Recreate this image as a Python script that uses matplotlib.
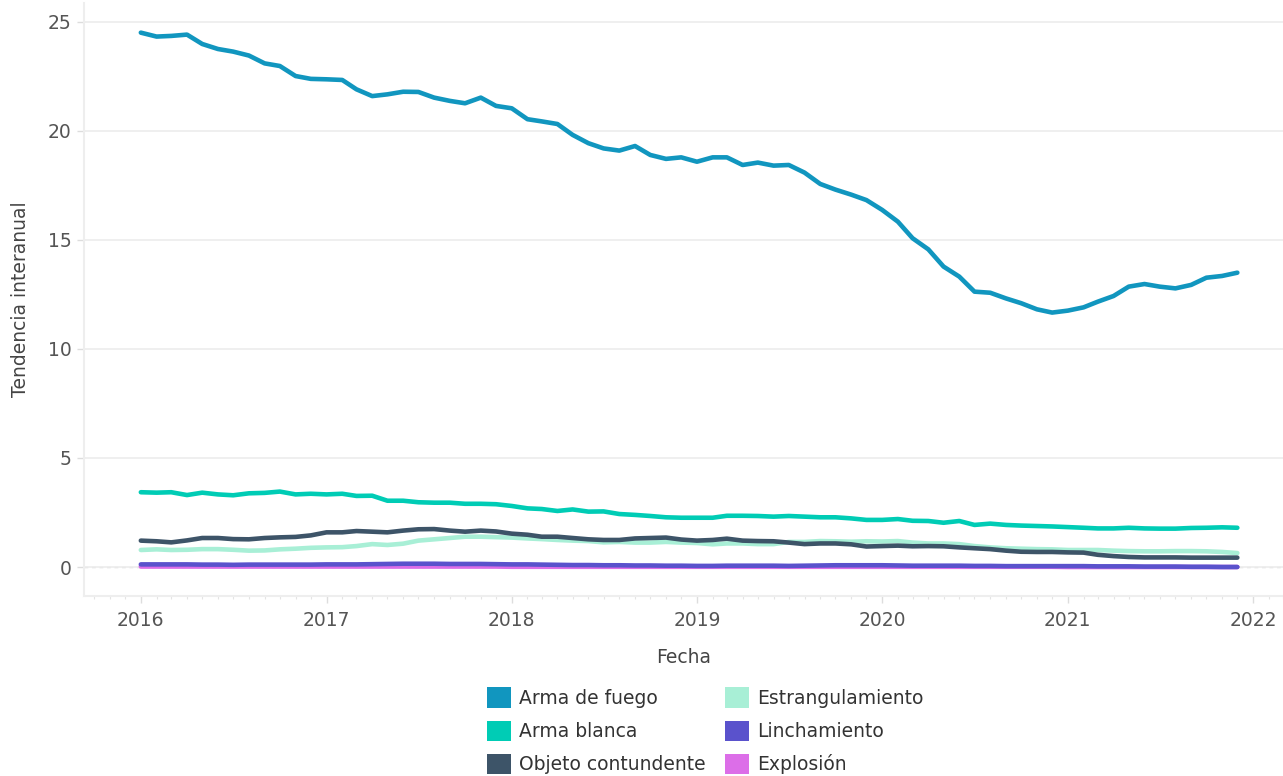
import matplotlib
matplotlib.use("Agg")
import matplotlib.pyplot as plt
import matplotlib.dates as mdates
from matplotlib.patches import Patch
import pandas as pd

dates = pd.date_range("2016-01-01", periods=72, freq="MS")

arma_fuego = [24.51, 24.33, 24.36, 24.42, 23.99, 23.76, 23.64, 23.46, 23.10, 22.98, 22.52, 22.39,
              22.37, 22.34, 21.91, 21.60, 21.68, 21.80, 21.79, 21.53, 21.38, 21.27, 21.53, 21.15,
              21.04, 20.54, 20.44, 20.32, 19.82, 19.44, 19.20, 19.10, 19.31, 18.90, 18.72, 18.79,
              18.59, 18.79, 18.79, 18.44, 18.55, 18.41, 18.44, 18.09, 17.57, 17.31, 17.08, 16.83,
              16.38, 15.84, 15.08, 14.57, 13.78, 13.32, 12.63, 12.58, 12.32, 12.10, 11.82, 11.67,
              11.76, 11.91, 12.17, 12.43, 12.86, 12.98, 12.86, 12.78, 12.94, 13.27, 13.35, 13.50]

arma_blanca = [3.43, 3.41, 3.43, 3.30, 3.41, 3.33, 3.29, 3.38, 3.40, 3.46, 3.33, 3.36,
               3.33, 3.36, 3.26, 3.27, 3.04, 3.04, 2.97, 2.95, 2.95, 2.90, 2.90, 2.88,
               2.80, 2.69, 2.66, 2.57, 2.64, 2.54, 2.55, 2.43, 2.39, 2.34, 2.28, 2.26,
               2.26, 2.26, 2.35, 2.35, 2.34, 2.31, 2.34, 2.31, 2.28, 2.28, 2.23, 2.16,
               2.16, 2.20, 2.12, 2.11, 2.03, 2.11, 1.93, 1.99, 1.93, 1.90, 1.88, 1.86,
               1.83, 1.80, 1.77, 1.77, 1.80, 1.77, 1.76, 1.76, 1.79, 1.80, 1.82, 1.80]

objeto_contundente = [1.21, 1.18, 1.13, 1.22, 1.33, 1.33, 1.28, 1.27, 1.33, 1.36, 1.38, 1.45,
                      1.59, 1.59, 1.65, 1.62, 1.59, 1.67, 1.73, 1.74, 1.67, 1.62, 1.67, 1.63,
                      1.53, 1.48, 1.39, 1.39, 1.33, 1.27, 1.24, 1.24, 1.31, 1.33, 1.35, 1.26,
                      1.21, 1.24, 1.30, 1.21, 1.19, 1.18, 1.12, 1.05, 1.08, 1.08, 1.04, 0.94,
                      0.96, 0.98, 0.95, 0.96, 0.95, 0.90, 0.86, 0.82, 0.75, 0.70, 0.69, 0.69,
                      0.67, 0.66, 0.56, 0.50, 0.46, 0.44, 0.44, 0.44, 0.43, 0.43, 0.43, 0.43]

estrangulamiento = [0.78, 0.81, 0.78, 0.79, 0.82, 0.82, 0.79, 0.75, 0.76, 0.81, 0.84, 0.88,
                    0.90, 0.91, 0.96, 1.05, 1.01, 1.07, 1.21, 1.27, 1.33, 1.39, 1.39, 1.37,
                    1.35, 1.31, 1.28, 1.24, 1.21, 1.19, 1.13, 1.15, 1.12, 1.12, 1.15, 1.12,
                    1.10, 1.04, 1.08, 1.08, 1.05, 1.05, 1.15, 1.15, 1.19, 1.18, 1.16, 1.18,
                    1.17, 1.19, 1.12, 1.08, 1.08, 1.05, 0.96, 0.90, 0.86, 0.84, 0.82, 0.81,
                    0.78, 0.78, 0.78, 0.75, 0.73, 0.72, 0.72, 0.73, 0.73, 0.72, 0.69, 0.64]

linchamiento = [0.12, 0.12, 0.12, 0.12, 0.11, 0.11, 0.10, 0.11, 0.11, 0.11, 0.11, 0.11,
                0.12, 0.12, 0.12, 0.13, 0.14, 0.15, 0.15, 0.15, 0.14, 0.14, 0.14, 0.13,
                0.12, 0.12, 0.11, 0.10, 0.09, 0.09, 0.08, 0.08, 0.07, 0.07, 0.06, 0.06,
                0.05, 0.05, 0.06, 0.06, 0.06, 0.06, 0.05, 0.06, 0.07, 0.08, 0.08, 0.08,
                0.08, 0.07, 0.06, 0.06, 0.06, 0.06, 0.05, 0.05, 0.04, 0.04, 0.04, 0.04,
                0.04, 0.04, 0.03, 0.03, 0.03, 0.02, 0.02, 0.02, 0.01, 0.01, 0.00, 0.00]

explosion = [0.02] * 24 + [0.01] * 36 + [0.00] * 12

series_names = ["Arma de fuego", "Arma blanca", "Objeto contundente",
                "Estrangulamiento", "Linchamiento", "Explosión"]
series_values = [arma_fuego, arma_blanca, objeto_contundente,
                 estrangulamiento, linchamiento, explosion]
series_colors = ["#1196bf", "#00ccb5", "#3d5468", "#a8efd6", "#5a52cc", "#dc6ee8"]

fig = plt.figure(figsize=(12.83, 7.76), dpi=100)
ax = fig.add_axes([84 / 1283, 1 - 596 / 776, 1 - 84 / 1283, (596 - 3) / 776])

ax.axhline(0, color="#bbbbbb", lw=0.9, ls=(0, (3, 3)), zorder=1)

for name, vals, col in reversed(list(zip(series_names, series_values, series_colors))):
    ax.plot(dates, vals, color=col, lw=3.3, solid_capstyle="round",
            solid_joinstyle="round", zorder=3)

ax.set_xlim(pd.Timestamp("2015-09-11"), pd.Timestamp("2022-03-01"))
ax.set_ylim(-1.33, 25.87)
ax.set_yticks([0, 5, 10, 15, 20, 25])
ax.xaxis.set_major_locator(mdates.YearLocator())
ax.xaxis.set_major_formatter(mdates.DateFormatter("%Y"))
ax.xaxis.set_minor_locator(mdates.MonthLocator())

ax.grid(axis="y", color="#eeeeee", lw=1.3, zorder=0)
ax.grid(axis="x", visible=False)
for s in ["top", "right"]:
    ax.spines[s].set_visible(False)
for s in ["left", "bottom"]:
    ax.spines[s].set_color("#eeeeee")
    ax.spines[s].set_linewidth(1.5)

ax.tick_params(axis="both", which="major", labelsize=13.5, labelcolor="#555555",
               color="#dddddd", length=5, width=1)
ax.tick_params(axis="x", which="minor", color="#e4e4e4", length=2.5, width=0.8)
ax.tick_params(axis="x", which="major", pad=6)
ax.tick_params(axis="y", which="major", pad=4)

ax.set_xlabel("Fecha", fontsize=13.5, color="#444444", labelpad=13)
ax.set_ylabel("Tendencia interanual", fontsize=13.5, color="#444444", labelpad=13)

handles = [Patch(facecolor=c, edgecolor="none") for c in series_colors]
fig.legend(handles, series_names, loc="upper center", ncol=2,
           bbox_to_anchor=(705 / 1283, 1 - 678 / 776), frameon=False,
           fontsize=13.5, labelcolor="#333333", handlelength=1.28, handleheight=1.28,
           handletextpad=0.45, columnspacing=1.0, labelspacing=0.68, borderpad=0)

fig.savefig("out.png", dpi=100)
